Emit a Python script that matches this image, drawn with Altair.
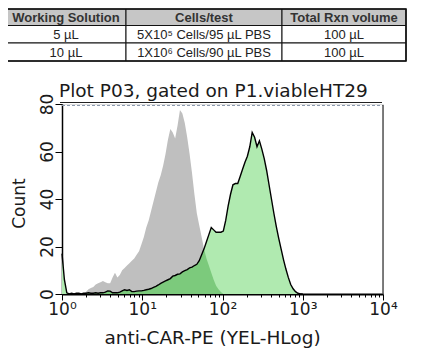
import altair as alt
import pandas as pd

# ---------------- histogram data (log10 channel of anti-CAR-PE, counts) ----------------
LOG_CH = [0.00, 0.03, 0.06, 0.09, 0.12, 0.15, 0.18, 0.21, 0.24, 0.27,
          0.30, 0.33, 0.36, 0.39, 0.42, 0.45, 0.48, 0.51, 0.54, 0.57,
          0.60, 0.63, 0.66, 0.69, 0.72, 0.75, 0.78, 0.81, 0.84, 0.87,
          0.90, 0.93, 0.96, 0.99, 1.02, 1.05, 1.08, 1.11, 1.14, 1.17,
          1.20, 1.23, 1.26, 1.29, 1.32, 1.35, 1.38, 1.41, 1.44, 1.47,
          1.50, 1.53, 1.56, 1.59, 1.62, 1.65, 1.68, 1.71, 1.74, 1.77,
          1.80, 1.83, 1.86, 1.89, 1.92, 1.95, 1.98, 2.01, 2.04, 2.07,
          2.10, 2.13, 2.16, 2.19, 2.22, 2.25, 2.28, 2.31, 2.34, 2.37,
          2.40, 2.43, 2.46, 2.49, 2.52, 2.55, 2.58, 2.61, 2.64, 2.67,
          2.70, 2.73, 2.76, 2.79, 2.82, 2.85, 2.88, 2.91, 2.94, 2.97, 3.00]

# unstained / isotype control (grey)
GRAY = [0, 0, 0, 0, 0, 0, 0, 0, 0, 0,
        1, 2, 2.5, 3, 4, 4.5, 5, 5.5, 5, 4.5,
        4.5, 7, 9, 7, 8, 10, 11, 12, 13, 14,
        15, 16.5, 18, 21, 24, 28, 31, 35, 39, 43,
        47, 50, 54, 59, 65, 69.5, 68, 65.5, 71, 77.5,
        76, 72, 66, 59, 51, 42, 34, 29, 24, 19,
        15, 12, 9, 6, 3.5, 2, 0.8, 0, 0, 0,
        0, 0, 0, 0, 0, 0, 0, 0, 0, 0,
        0, 0, 0, 0, 0, 0, 0, 0, 0, 0,
        0, 0, 0, 0, 0, 0, 0, 0, 0, 0, 0]

# anti-CAR-PE stained (green, black outline)
GREEN = [17, 6, 0.5, 0, 0.3, 0, 0.3, 0.3, 0, 0.3,
         0.3, 0.5, 0.3, 0.3, 0.5, 0.3, 0.5, 0.5, 0.8, 1.3,
         1.2, 0.5, 0.5, 0.5, 0.8, 1.3, 1.8, 1.5, 1.8, 1,
         1, 1.2, 1.3, 1.3, 1.5, 1.8, 2, 2.3, 2.8, 3.2,
         3.8, 4.5, 5, 5.5, 6, 6.5, 7.5, 7.8, 8.3, 8.5,
         9.3, 9.8, 10.3, 11, 11.3, 12, 12.5, 14, 16.5, 19,
         22, 25, 28, 27, 26, 26, 26, 26.5, 31, 37,
         42, 46, 46.5, 46.5, 49.5, 52.5, 55.5, 58, 62, 68,
         66, 62, 64.5, 61, 57, 52, 46, 40, 34, 28.5,
         23.5, 19, 14.5, 10.5, 7, 4, 2.2, 1, 0.3, 0, 0]

X_TICKS = [m * 10 ** d for d in range(4) for m in range(1, 10)] + [10000]
Y_TICKS = list(range(0, 81, 5))

TITLE = "Plot P03, gated on P1.viableHT29"
X_TITLE = "anti-CAR-PE (YEL-HLog)"
Y_TITLE = "Count"

# ---------------- table ----------------
TABLE_HEADER = ["Working Solution", "Cells/test", "Total Rxn volume"]
TABLE_ROW1 = ["5 µL", "5X10⁵ Cells/95 µL PBS", "100 µL"]
TABLE_ROW2 = ["10 µL", "1X10⁶ Cells/90 µL PBS", "100 µL"]
COL_EDGES = [0, 120, 276, 400]   # layout of the table columns
ROW_EDGES = [0, 16.5, 34, 52]    # layout of the table rows

W, H = 321, 190
LIGHT_GREEN = "#b0eab0"
MID_GREEN = "#7cca7c"
GREY_FILL = "#bfbfbf"
FONT = "DejaVu Sans"

df = pd.DataFrame({"e": LOG_CH, "gray": GRAY, "green": GREEN})
df["x"] = 10 ** df["e"]
df["overlap"] = df[["gray", "green"]].min(axis=1)

xs = alt.Scale(type="log", domain=[1, 10000], nice=False)
ys = alt.Scale(domain=[0, 80], nice=False)

major_test = "indexof([1,10,100,1000,10000], datum.value) >= 0"
x_axis = alt.Axis(
    values=X_TICKS,
    labelExpr="indexof([1,10,100,1000,10000], datum.value) >= 0 ? '10' + ['⁰','¹','²','³','⁴'][indexof([1,10,100,1000,10000], datum.value)] : ''",
    tickSize={"condition": {"test": major_test, "value": 6}, "value": 3},
    tickColor="black", tickWidth=1,
    domainColor="black", domainWidth=2,
    labelFont=FONT, labelFontSize=17, labelColor="#1a1a1a", labelPadding=1,
    labelFlush=False, labelOverlap=False,
    grid=False,
    title=X_TITLE, titleFont=FONT, titleFontSize=18.5, titleFontWeight="normal",
    titleColor="#1a1a1a", titleX=150, titleY=43, titleAlign="center", titleBaseline="middle",
)
y_axis = alt.Axis(
    values=Y_TICKS,
    labelExpr="datum.value % 20 === 0 ? datum.label : ''",
    tickSize={"condition": {"test": "datum.value % 20 === 0", "value": 7}, "value": 4},
    tickColor="black", tickWidth=1,
    domainColor="black", domainWidth=1.5,
    labelFont=FONT, labelFontSize=17, labelColor="#1a1a1a", labelAngle=270,
    labelAlign="center", labelBaseline="alphabetic", labelPadding=3,
    labelOverlap=False, grid=False,
    title=Y_TITLE, titleFont=FONT, titleFontSize=17, titleFontWeight="normal",
    titleColor="#1a1a1a", titleX=-43, titleY=99, titleAngle=270,
    titleAlign="center", titleBaseline="middle",
)

base = alt.Chart(df)
X = alt.X("x:Q", scale=xs, axis=x_axis)
gray_area = base.mark_area(color=GREY_FILL, interpolate="linear").encode(
    x=X, y=alt.Y("gray:Q", scale=ys, axis=y_axis))
green_area = base.mark_area(color=LIGHT_GREEN, interpolate="linear").encode(
    x=alt.X("x:Q", title=X_TITLE), y=alt.Y("green:Q", title=Y_TITLE))
overlap_area = base.mark_area(color=MID_GREEN, interpolate="linear").encode(
    x=alt.X("x:Q", title=X_TITLE), y=alt.Y("overlap:Q", title=Y_TITLE))
green_line = base.mark_line(color="black", strokeWidth=1.4, interpolate="linear").encode(
    x=alt.X("x:Q", title=X_TITLE), y=alt.Y("green:Q", title=Y_TITLE))

one = pd.DataFrame({"title": [TITLE]})
frame_top = alt.Chart(one).mark_rule(color="#8a98ad", strokeDash=[3, 2], strokeWidth=1).encode(
    x=alt.value(0), x2=alt.value(W), y=alt.value(1.5))
frame_right = alt.Chart(one).mark_rule(color="#555555", strokeWidth=1.5).encode(
    x=alt.value(W), y=alt.value(1), y2=alt.value(H))
underline = alt.Chart(one).mark_rule(color="#222222", strokeWidth=1.2).encode(
    x=alt.value(-2), x2=alt.value(W - 1), y=alt.value(-1.5))
title_text = alt.Chart(one).mark_text(
    font=FONT, fontSize=18.5, color="#1a1a1a", align="left", baseline="alphabetic"
).encode(x=alt.value(-3), y=alt.value(-7), text="title:N")

hist = alt.layer(gray_area, green_area, overlap_area, green_line,
                 frame_top, frame_right, underline, title_text)

# table cells
rows = [TABLE_HEADER, TABLE_ROW1, TABLE_ROW2]
recs = []
for r, row in enumerate(rows):
    for c, txt in enumerate(row):
        recs.append({
            "x0": COL_EDGES[c], "x1": COL_EDGES[c + 1],
            "y0": ROW_EDGES[r], "y1": ROW_EDGES[r + 1],
            "xc": (COL_EDGES[c] + COL_EDGES[c + 1]) / 2,
            "yc": (ROW_EDGES[r] + ROW_EDGES[r + 1]) / 2,
            "text": txt, "header": r == 0,
        })
cells = pd.DataFrame(recs)
outer = pd.DataFrame({"x0": [COL_EDGES[0]], "x1": [COL_EDGES[-1]],
                      "y0": [ROW_EDGES[0]], "y1": [ROW_EDGES[-1]]})

tx = alt.Scale(domain=[COL_EDGES[0], COL_EDGES[-1]], range=[-56, 344], nice=False, zero=False)
ty = alt.Scale(domain=[ROW_EDGES[0], ROW_EDGES[-1]], range=[-95, -43], nice=False, zero=False)

cell_rect = alt.Chart(cells).mark_rect(stroke="#111111", strokeWidth=1).encode(
    x=alt.X("x0:Q", scale=tx, axis=None), x2="x1:Q",
    y=alt.Y("y0:Q", scale=ty, axis=None), y2="y1:Q",
    fill=alt.condition("datum.header", alt.value("#c6c6c6"), alt.value("white")),
)
border = alt.Chart(outer).mark_rect(stroke="#111111", strokeWidth=1.6, fillOpacity=0).encode(
    x=alt.X("x0:Q", scale=tx, axis=None), x2="x1:Q",
    y=alt.Y("y0:Q", scale=ty, axis=None), y2="y1:Q",
)
header_text = alt.Chart(cells).transform_filter("datum.header").mark_text(
    font="Liberation Sans", fontSize=13, fontWeight="bold", color="#333333", baseline="middle", dy=1
).encode(x=alt.X("xc:Q", scale=tx, axis=None), y=alt.Y("yc:Q", scale=ty, axis=None), text="text:N")
body_text = alt.Chart(cells).transform_filter("!datum.header").mark_text(
    font="Liberation Sans", fontSize=13, color="#222222", baseline="middle", dy=1
).encode(x=alt.X("xc:Q", scale=tx, axis=None), y=alt.Y("yc:Q", scale=ty, axis=None), text="text:N")

table = alt.layer(cell_rect, border, header_text, body_text)

chart = alt.layer(hist, table).resolve_scale(x="independent", y="independent").properties(
    width=W, height=H,
    padding={"left": 54, "top": 96, "right": 33, "bottom": 58},
    autosize="none",
).configure_view(stroke=None).configure(background="white")

chart.save("out.html", embed_options={"renderer": "svg", "actions": False})
